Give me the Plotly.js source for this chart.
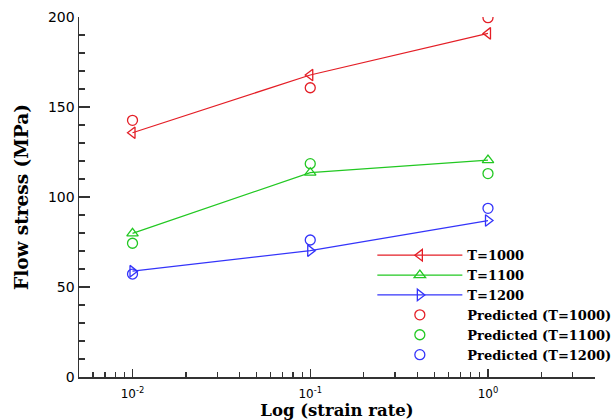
<!DOCTYPE html>
<html>
<head>
<meta charset="utf-8">
<script src="https://cdn.plot.ly/plotly-3.0.1.min.js"></script>
<style>html,body{margin:0;padding:0;background:#fff;}#chart{width:613px;height:420px;}</style>
</head>
<body>
<div id="chart"></div>
<script>
// Data
const strainRates = [0.01, 0.1, 1];
const expT1000 = [135.7, 167.8, 190.9];
const expT1100 = [79.8, 113.5, 120.5];
const expT1200 = [58.8, 70.2, 86.9];
const predT1000 = [142.6, 160.7, 199.6];
const predT1100 = [74.3, 118.5, 113.0];
const predT1200 = [57.2, 76.1, 93.7];

const seriesNames = ['T=1000', 'T=1100', 'T=1200',
  'Predicted (T=1000)', 'Predicted (T=1100)', 'Predicted (T=1200)'];
const xTickVals = [0.01, 0.1, 1];
const xTickText = ['10<sup>-2</sup>', '10<sup>-1</sup>', '10<sup>0</sup>'];
const xMinorVals = [0.006, 0.007, 0.008, 0.009,
  0.02, 0.03, 0.04, 0.05, 0.06, 0.07, 0.08, 0.09,
  0.2, 0.3, 0.4, 0.5, 0.6, 0.7, 0.8, 0.9,
  2, 3, 4];

const RED = 'rgb(228,30,38)';
const GREEN = 'rgb(34,200,34)';
const BLUE = 'rgb(52,52,250)';

function lineTrace(y, name, color, symbol) {
  return {
    x: strainRates, y: y, name: name, type: 'scatter', mode: 'lines+markers',
    line: {color: color, width: 1.2},
    marker: {symbol: symbol, size: 10, color: color, line: {color: color, width: 1.3}}
  };
}
function predTrace(y, name, color) {
  return {
    x: strainRates, y: y, name: name, type: 'scatter', mode: 'markers',
    marker: {symbol: 'circle-open', size: 10, color: color, line: {color: color, width: 1.3}}
  };
}

const data = [
  lineTrace(expT1000, seriesNames[0], RED, 'triangle-left-open'),
  lineTrace(expT1100, seriesNames[1], GREEN, 'triangle-up-open'),
  lineTrace(expT1200, seriesNames[2], BLUE, 'triangle-right-open'),
  predTrace(predT1000, seriesNames[3], RED),
  predTrace(predT1100, seriesNames[4], GREEN),
  predTrace(predT1200, seriesNames[5], BLUE)
];

const AXC = '#333';
const layout = {
  width: 613, height: 420,
  margin: {l: 79, r: 18, t: 17, b: 43, autoexpand: false},
  paper_bgcolor: '#fff', plot_bgcolor: '#fff',
  showlegend: true,
  legend: {
    x: 0.5685, y: 0.38, xanchor: 'left', yanchor: 'top',
    bgcolor: 'rgba(0,0,0,0)', borderwidth: 0,
    itemwidth: 85,
    font: {family: 'DejaVu Serif', size: 13, color: '#000', weight: 'bold'},
    tracegroupgap: 0
  },
  xaxis: {
    type: 'log',
    range: [Math.log10(0.005), Math.log10(4)],
    tickmode: 'array', tickvals: xTickVals, ticktext: xTickText,
    ticks: 'inside', ticklen: 8, tickwidth: 1.2, tickcolor: AXC,
    minor: {tickmode: 'array', tickvals: xMinorVals, ticks: 'inside', ticklen: 5, tickwidth: 1.2, tickcolor: AXC, showgrid: false},
    showline: true, linecolor: AXC, linewidth: 1.5,
    showgrid: false, zeroline: false,
    tickfont: {family: 'DejaVu Sans', size: 12, color: '#000'},
    ticklabelstandoff: 5,
    title: {text: 'Log (strain rate)', standoff: 2,
      font: {family: 'DejaVu Serif', size: 16.5, color: '#000', weight: 'bold'}},
    automargin: false
  },
  yaxis: {
    range: [0, 200],
    tickmode: 'linear', tick0: 0, dtick: 50,
    ticks: 'inside', ticklen: 11, tickwidth: 1.2, tickcolor: AXC,
    minor: {dtick: 10, ticks: 'inside', ticklen: 6, tickwidth: 1.2, tickcolor: AXC, showgrid: false},
    showline: true, linecolor: AXC, linewidth: 1.5,
    showgrid: false, zeroline: false,
    tickfont: {family: 'DejaVu Sans', size: 14, color: '#000'},
    title: {text: 'Flow stress (MPa)', standoff: 14,
      font: {family: 'DejaVu Serif', size: 18.5, color: '#000', weight: 'bold'}},
    automargin: false
  }
};

Plotly.newPlot('chart', data, layout, {displayModeBar: false, staticPlot: true});
</script>
</body>
</html>
